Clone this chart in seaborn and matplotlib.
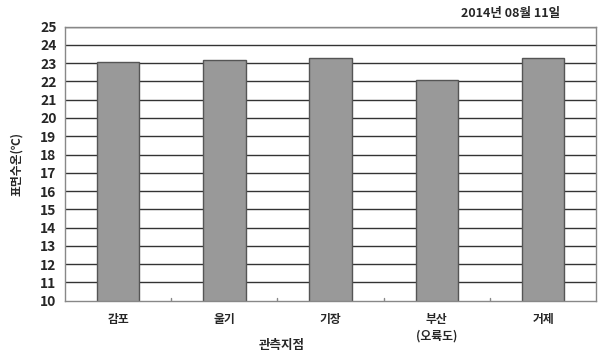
import matplotlib
matplotlib.use("Agg")
import matplotlib.pyplot as plt
import seaborn as sns
import pandas as pd

categories = ["감포", "울기", "기장", "부산\n(오륙도)", "거제"]
values = [23.07, 23.17, 23.31, 22.08, 23.31]
yticks = list(range(10, 26))
title = "2014년 08월 11일"
xlabel = "관측지점"
ylabel = "표면수온(℃)"

sns.set_theme(style="white")
plt.rcParams['font.family'] = ['Noto Sans CJK KR', 'DejaVu Sans']

df = pd.DataFrame({"site": categories, "temp": values})

fig = plt.figure(figsize=(6.01, 3.55), dpi=100)
ax = fig.add_axes([0.108, 0.153, 0.884, 0.772])

ax.set_ylim(10, 25)
ax.set_yticks(yticks)
for y in yticks[1:]:
    ax.axhline(y, color="#333333", lw=1.0, zorder=0)

sns.barplot(data=df, x="site", y="temp", color="#999999", width=0.4,
            edgecolor="#555555", linewidth=1.0, ax=ax, zorder=2, saturation=1)
ax.set_ylim(10, 25)
ax.set_xlim(-0.5, len(categories) - 0.5)

for s in ax.spines.values():
    s.set_color("#888888")
    s.set_linewidth(1.0)

ax.set_yticklabels([str(t) for t in yticks], fontsize=10, fontweight="bold")
ax.set_xticks(range(len(categories)))
ax.set_xticklabels(categories, fontsize=8.5, fontweight="bold", linespacing=1.3)
ax.tick_params(axis="both", length=0, pad=6)
ax.tick_params(axis="x", pad=9)

# small tick marks between categories
for b in [0.5, 1.5, 2.5, 3.5]:
    ax.plot([b, b], [10, 10.15], color="#888888", lw=1, zorder=3)

ax.set_xlabel("")
fig.text(0.468, 0.028, xlabel, ha="center", va="center", fontsize=9, fontweight="bold")
ax.set_ylabel(ylabel, fontsize=8.5, fontweight="bold", labelpad=12)

fig.text(0.932, 0.963, title, ha="right", va="center", fontsize=9, fontweight="bold")

fig.savefig("out.png", dpi=100)
